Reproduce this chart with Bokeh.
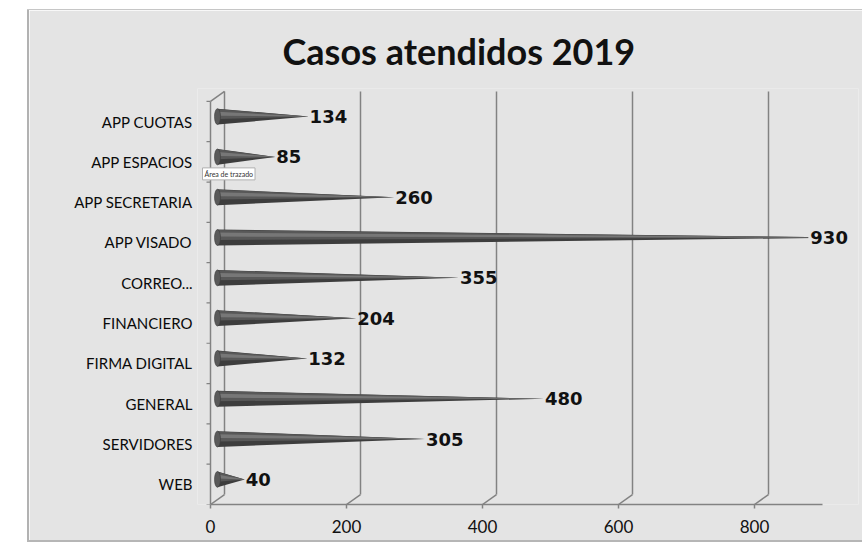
from bokeh.plotting import figure
from bokeh.models import FixedTicker, Label, Spacer
from bokeh.layouts import row, column
from bokeh.embed import file_html
from bokeh.resources import INLINE
from bokeh.core.properties import value

# ---------------- data ----------------
categories = ["APP CUOTAS", "APP ESPACIOS", "APP SECRETARIA", "APP VISADO", "CORREO...",
              "FINANCIERO", "FIRMA DIGITAL", "GENERAL", "SERVIDORES", "WEB"]
casos = [134, 85, 260, 930, 355, 204, 132, 480, 305, 40]
x_ticks = [0, 200, 400, 600, 800]
x_axis_max = 900
title_text = "Casos atendidos 2019"
tooltip_text = "Área de trazado"

# ---------------- layout constants ----------------
BG = "#e4e4e4"
GRID = "#828282"
PX_X = 0.68          # pixels per value unit
PX_Y = 40.6          # pixels per category slot
FRAME_W = 661
FRAME_H = 419
X_START = -13 / PX_X
DX = 14 / PX_X       # 3D depth offset (x, data units)
DY = 10 / PX_Y       # 3D depth offset (y, data units)
HALF_H = 8 / PX_Y    # half height of cone base
TICK = 4 / PX_X

n = len(categories)
ypos = [n - 1 - i for i in range(n)]
top = ypos[0] + 0.5
bottom = -0.5

p = figure(width=833, height=530,
           x_range=(X_START, X_START + FRAME_W / PX_X), y_range=(bottom, bottom + FRAME_H / PX_Y),
           output_backend="svg", toolbar_location=None,
           min_border_left=168, min_border_right=4, min_border_top=75, min_border_bottom=36,
           background_fill_color=BG, border_fill_color=BG, outline_line_color=None)

p.xgrid.visible = False
p.ygrid.visible = False

# title
p.title.text = title_text
p.title.text_font = "Lato"
p.title.text_font_size = "36px"
p.title.text_font_style = "bold"
p.title.text_color = "#111111"
p.title.align = "left"
p.title.offset = 85
p.title.standoff = 32

# x axis
xa = p.xaxis[0]
xa.ticker = FixedTicker(ticks=x_ticks, minor_ticks=[])
xa.bounds = (0, x_axis_max)
xa.axis_line_color = GRID
xa.axis_line_width = 1.5
xa.major_tick_line_color = GRID
xa.major_tick_line_width = 1.5
xa.major_tick_out = 4
xa.major_tick_in = 0
xa.minor_tick_line_color = None
xa.major_label_standoff = 11
xa.major_label_text_font = "Lato"
xa.major_label_text_font_size = "17px"
xa.major_label_text_color = "#111111"

# y axis (category labels only; wall drawn below)
ya = p.yaxis[0]
ya.ticker = FixedTicker(ticks=ypos, minor_ticks=[])
ya.major_label_overrides = {k: c for k, c in zip(ypos, categories)}
ya.axis_line_color = None
ya.major_tick_line_color = None
ya.minor_tick_line_color = None
ya.major_tick_out = 0
ya.major_tick_in = 0
ya.major_label_standoff = 5
ya.major_label_text_font = "Lato"
ya.major_label_text_font_size = "15px"
ya.major_label_text_color = "#0a0a0a"

# 3D walls: back gridlines, slants, left wall
p.segment(x0=[v + DX for v in x_ticks], y0=[bottom + DY] * len(x_ticks),
          x1=[v + DX for v in x_ticks], y1=[top + DY] * len(x_ticks),
          line_color=GRID, line_width=1.5)
p.segment(x0=x_ticks, y0=[bottom] * len(x_ticks),
          x1=[v + DX for v in x_ticks], y1=[bottom + DY] * len(x_ticks),
          line_color=GRID, line_width=1.5)
p.segment(x0=[0, 0], y0=[top, bottom], x1=[DX, 0], y1=[top + DY, top],
          line_color=GRID, line_width=1.5)
bounds_y = [k - 0.5 for k in range(n + 1)]
p.segment(x0=[-TICK] * len(bounds_y), y0=bounds_y, x1=[0] * len(bounds_y), y1=bounds_y,
          line_color=GRID, line_width=1.2)

# cones
x0 = DX / 2
yc = [k + DY / 2 for k in ypos]
layers = [(-1.0, 1.0, "#3d3d3d"), (-0.3, 0.95, "#585858"), (0.12, 0.62, "#777777")]
for lo, hi, col in layers:
    xs = [[x0, x0, x0 + v] for v in casos]
    ys = [[c + lo * HALF_H, c + hi * HALF_H, c] for c in yc]
    p.patches(xs=xs, ys=ys, fill_color=col, line_color=None)
p.ellipse(x=[x0] * n, y=yc, width=6 / PX_X, height=2 * HALF_H,
          fill_color="#5a5a5a", line_color="#3a3a3a", line_width=0.6)

# data labels
out_i = [i for i in range(n) if casos[i] <= x_axis_max]
in_i = [i for i in range(n) if casos[i] > x_axis_max]
p.text(x=[x0 + casos[i] for i in out_i], y=[yc[i] for i in out_i],
       text=[str(casos[i]) for i in out_i], x_offset=1,
       text_font=value("DejaVu Sans"), text_font_style="bold", text_font_size="18px",
       text_color="#111111", text_align="left", text_baseline="middle")
p.text(x=[x0 + casos[i] for i in in_i], y=[yc[i] for i in in_i],
       text=[str(casos[i]) for i in in_i], x_offset=0,
       text_font=value("DejaVu Sans"), text_font_style="bold", text_font_size="18px",
       text_color="#111111", text_align="right", text_baseline="middle",
       background_fill_color=BG, padding=2)

# Excel tooltip artefact
p.add_layout(Label(x=-8 / PX_X, y=(504 - 171) / PX_Y - 0.5, text=tooltip_text,
                   text_font="Lato", text_font_size="7px", text_color="#333333",
                   text_align="left", text_baseline="middle",
                   background_fill_color="white", border_line_color="#b0b0b0",
                   border_line_width=1, padding=2))

# panel frame edges (chart-area border)
layout = column(
    Spacer(width=862, height=9),
    row(Spacer(width=27, height=1),
        Spacer(width=835, height=1, styles={"background-color": "#c6c6c6"})),
    row(Spacer(width=27, height=530),
        Spacer(width=2, height=530, styles={"background-color": "#b2b2b2"}),
        p),
    row(Spacer(width=27, height=2),
        Spacer(width=835, height=2, styles={"background-color": "#b6b6b6"})),
)
open("out.html", "w").write(file_html(layout, INLINE))
